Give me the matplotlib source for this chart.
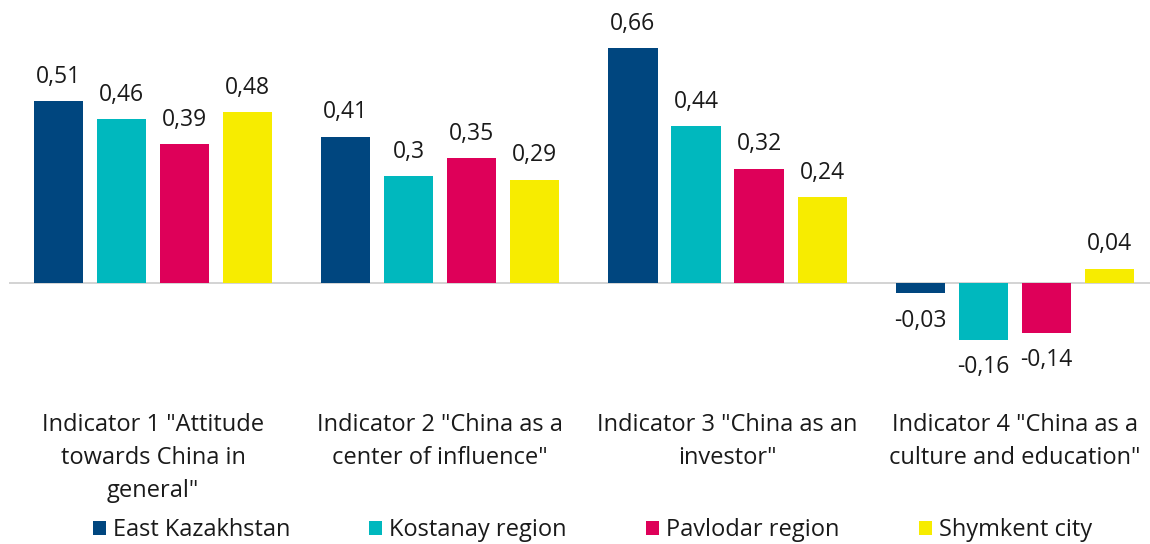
import matplotlib
matplotlib.use("Agg")
import matplotlib.pyplot as plt
import numpy as np

plt.rcParams["font.family"] = ["Open Sans", "DejaVu Sans"]

categories = [
    'Indicator 1 "Attitude\ntowards China in\ngeneral"',
    'Indicator 2 "China as a\ncenter of influence"',
    'Indicator 3 "China as an\ninvestor"',
    'Indicator 4 "China as a\nculture and education"',
]
series = ["East Kazakhstan", "Kostanay region", "Pavlodar region", "Shymkent city"]
east_kaz = [0.51, 0.41, 0.66, -0.03]
kostanay = [0.46, 0.30, 0.44, -0.16]
pavlodar = [0.39, 0.35, 0.32, -0.14]
shymkent = [0.48, 0.29, 0.24, 0.04]
colors = ["#00467F", "#00B8BE", "#DE0059", "#F7EC00"]


def fmt(v):
    s = f"{v:.2f}".rstrip("0").rstrip(".")
    return s.replace(".", ",")


fig = plt.figure(figsize=(11.5, 5.44), dpi=100)
ax = fig.add_axes([9.4 / 1150, 0.265, 1149 / 1150, 0.735])
ax.set_xlim(-0.5, 3.5)
ax.set_ylim(-0.329, 0.795)
ax.axis("off")

x = np.arange(len(categories))
width = 0.171
step = 0.2195
for i, (vals, cor) in enumerate(zip([east_kaz, kostanay, pavlodar, shymkent], colors)):
    pos = x + (i - 1.5) * step
    ax.bar(pos, vals, width=width, color=cor, label=series[i], zorder=2)
    for p, v in zip(pos, vals):
        if v >= 0:
            ax.annotate(fmt(v), (p, v), xytext=(0, 9), textcoords="offset points",
                        ha="center", va="bottom", fontsize=16.5, color="#1a1a1a")
        else:
            ax.annotate(fmt(v), (p, v), xytext=(0, -11), textcoords="offset points",
                        ha="center", va="top", fontsize=16.5, color="#1a1a1a")

ax.axhline(0, color="#d0d0d0", linewidth=1.3, zorder=1)

# rotulos das categorias
for xi, cat in zip(x, categories):
    ax.text(xi, -0.365, cat, ha="center", va="top", fontsize=17, color="#1a1a1a",
            linespacing=1.5, transform=ax.transData, clip_on=False)

fig.legend(loc="lower center", bbox_to_anchor=(0.515, -0.036), ncol=4, frameon=False,
           fontsize=17, handlelength=0.55, handleheight=0.55, handletextpad=0.3,
           columnspacing=3.35, labelcolor="#1a1a1a")

fig.savefig("out.png", dpi=100, facecolor="white")
